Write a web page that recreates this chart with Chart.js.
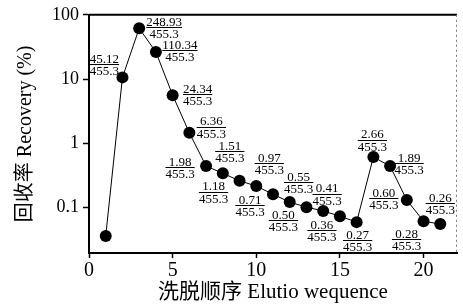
<!DOCTYPE html>
<html lang="zh">

<head>
    <meta charset="UTF-8">
    <title>Elution recovery</title>
    <script src="https://cdn.jsdelivr.net/npm/chart.js"></script>
    <style>
        body { margin: 0; background: #fff; }
        .wrap { width: 463px; height: 306px; }
    </style>
</head>

<body>
    <div class="wrap">
        <canvas id="recChart"></canvas>
    </div>

    <script>
        // elution order and recovery (%)
        const elution = [1, 2, 3, 4, 5, 6, 7, 8, 9, 10, 11, 12, 13, 14, 15, 16, 17, 18, 19, 20, 21];
        const recovery = [0.036, 10.6, 61.5, 26.3, 5.6, 1.45, 0.44, 0.34, 0.26, 0.215, 0.16, 0.121,
            0.101, 0.088, 0.073, 0.059, 0.61, 0.44, 0.13, 0.061, 0.055];
        // fraction labels: eluted amount / loaded amount
        const numerators = ['', '45.12', '248.93', '110.34', '24.34', '6.36', '1.98', '1.51', '1.18', '0.97',
            '0.71', '0.55', '0.50', '0.41', '0.36', '0.27', '2.66', '1.89', '0.60', '0.28', '0.26'];
        const denominator = '455.3';
        const yTicks = [0.1, 1, 10, 100];
        const xTicks = [0, 5, 10, 15, 20];

        // where each fraction sits relative to its point (px)
        const labelOffsets = [[0, 0], [-18, -13], [25, -1], [24, -2], [25, -1], [22, -6], [-26, 1], [7, -22],
            [-26, 11], [13, -23], [-23, 11], [9, -20], [-23, 13], [4, -17], [-18, 14], [1, 18], [-1, -17],
            [19, -3], [-23, -2], [-17, 18], [0, -21]];

        const serif = "'Liberation Serif', 'Noto Sans CJK SC', serif";

        const fractionLabels = {
            id: 'fractionLabels',
            afterDatasetsDraw(chart) {
                const ctx = chart.ctx;
                const pts = chart.getDatasetMeta(0).data;
                ctx.save();
                ctx.font = '13px ' + serif;
                ctx.fillStyle = '#000';
                ctx.strokeStyle = '#000';
                ctx.lineWidth = 1;
                ctx.textAlign = 'center';
                pts.forEach((p, i) => {
                    if (!numerators[i]) return;
                    const cx = p.x + labelOffsets[i][0];
                    const cy = p.y + labelOffsets[i][1];
                    const w = Math.max(ctx.measureText(numerators[i]).width, ctx.measureText(denominator).width);
                    ctx.textBaseline = 'alphabetic';
                    ctx.fillText(numerators[i], cx, cy - 1.5);
                    ctx.beginPath();
                    ctx.moveTo(cx - w / 2, Math.round(cy) + 0.5);
                    ctx.lineTo(cx + w / 2, Math.round(cy) + 0.5);
                    ctx.stroke();
                    ctx.textBaseline = 'top';
                    ctx.fillText(denominator, cx, cy + 1);
                });
                ctx.restore();
            }
        };

        // top and right frame lines
        const frame = {
            id: 'frame',
            afterDraw(chart) {
                const { ctx, chartArea: a } = chart;
                ctx.save();
                ctx.strokeStyle = '#000';
                ctx.lineWidth = 2;
                ctx.beginPath();
                ctx.moveTo(a.left, a.top);
                ctx.lineTo(a.right, a.top);
                ctx.stroke();
                ctx.lineWidth = 1;
                ctx.strokeStyle = '#777';
                ctx.setLineDash([2, 3]);
                ctx.beginPath();
                ctx.moveTo(a.right - 0.5, a.top);
                ctx.lineTo(a.right - 0.5, a.bottom);
                ctx.stroke();
                ctx.restore();
            }
        };

        const ctx = document.getElementById('recChart').getContext('2d');
        new Chart(ctx, {
            type: 'line',
            data: {
                labels: elution,
                datasets: [{
                    data: elution.map((x, i) => ({ x: x, y: recovery[i] })),
                    borderColor: '#000',
                    borderWidth: 1,
                    backgroundColor: '#000',
                    pointRadius: 6,
                    pointBackgroundColor: '#000',
                    pointBorderWidth: 0,
                    tension: 0,
                    fill: false
                }]
            },
            options: {
                responsive: true,
                maintainAspectRatio: false,
                animation: false,
                layout: { padding: { top: 14, right: 1, left: 0, bottom: 0 } },
                plugins: {
                    legend: { display: false },
                    tooltip: { enabled: false }
                },
                scales: {
                    x: {
                        type: 'linear',
                        min: 0,
                        max: 22,
                        afterBuildTicks: (s) => { s.ticks = xTicks.map(v => ({ value: v })); },
                        afterFit: (s) => { s.height = 53; },
                        ticks: {
                            color: '#000',
                            font: { family: serif, size: 20 },
                            padding: 1,
                            maxRotation: 0
                        },
                        grid: {
                            drawOnChartArea: false,
                            tickLength: 5,
                            color: '#000',
                            tickWidth: 1.5
                        },
                        border: { color: '#000', width: 2 },
                        title: {
                            display: true,
                            text: '洗脱顺序 Elutio wequence',
                            color: '#000',
                            font: { family: serif, size: 21 },
                            padding: { top: 0, bottom: 1 }
                        }
                    },
                    y: {
                        type: 'logarithmic',
                        min: 0.0195,
                        max: 100,
                        afterBuildTicks: (s) => { s.ticks = yTicks.map(v => ({ value: v })); },
                        afterFit: (s) => { s.width = 89; },
                        ticks: {
                            color: '#000',
                            font: { family: serif, size: 18 },
                            padding: 4,
                            callback: (v) => String(v)
                        },
                        grid: {
                            drawOnChartArea: false,
                            tickLength: 6,
                            color: '#000',
                            tickWidth: 1.5
                        },
                        border: { color: '#000', width: 2 },
                        title: {
                            display: true,
                            text: '回收率 Recovery (%)',
                            color: '#000',
                            font: { family: serif, size: 20 },
                            padding: { top: 14, bottom: 0 }
                        }
                    }
                }
            },
            plugins: [fractionLabels, frame]
        });
    </script>
</body>

</html>
